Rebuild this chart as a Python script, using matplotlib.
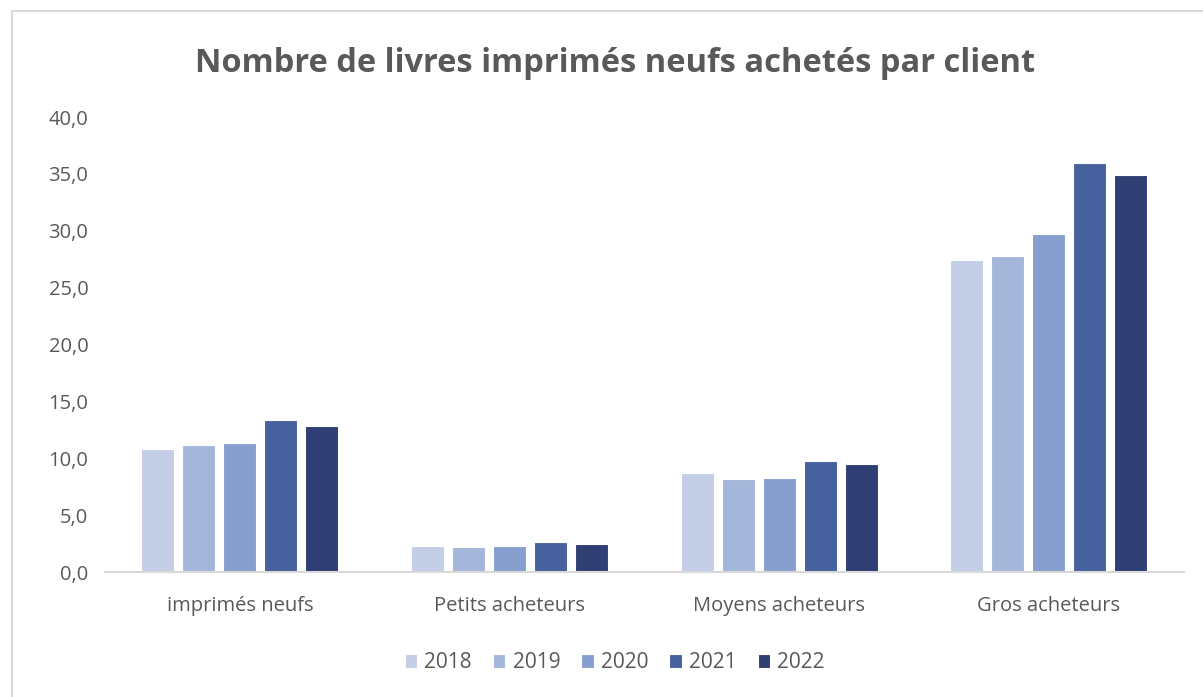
import numpy as np
import matplotlib.pyplot as plt
from matplotlib.patches import Rectangle

plt.rcParams['font.family'] = ['Open Sans', 'DejaVu Sans']

categories = ["imprimés neufs", "Petits acheteurs", "Moyens acheteurs", "Gros acheteurs"]
years = ["2018", "2019", "2020", "2021", "2022"]
v2018 = [10.8, 2.3, 8.7, 27.4]
v2019 = [11.2, 2.2, 8.2, 27.8]
v2020 = [11.3, 2.3, 8.3, 29.7]
v2021 = [13.4, 2.6, 9.8, 36.0]
v2022 = [12.8, 2.5, 9.5, 34.9]
series = [v2018, v2019, v2020, v2021, v2022]
colors = ["#C3CDE6", "#A5B6DB", "#879FCE", "#46619E", "#2F3E73"]

txt = "#595959"
fig = plt.figure(figsize=(12.03, 6.97), dpi=100)
ax = fig.add_axes([0.0873, 0.1793, 0.8967, 0.6528])

x = np.arange(len(categories))
pitch = 0.152
width = 0.122
for i, (vals, c) in enumerate(zip(series, colors)):
    ax.bar(x + (i - 2) * pitch, vals, width, color=c, edgecolor="white",
           linewidth=0.8, label=years[i], zorder=2)

ax.set_xlim(-0.5, 3.5)
ax.set_ylim(0, 40)
ax.set_yticks(np.arange(0, 41, 5))
ax.set_yticklabels([f"{v:.1f}".replace(".", ",") for v in np.arange(0, 41, 5)])
ax.set_xticks(x)
ax.set_xticklabels(categories)
ax.tick_params(axis="both", length=0, colors=txt, labelsize=14.5)
ax.tick_params(axis="x", pad=17)
ax.tick_params(axis="y", pad=12)
for s in ["top", "right", "left"]:
    ax.spines[s].set_visible(False)
ax.spines["bottom"].set_color("#D9D9D9")
ax.spines["bottom"].set_linewidth(1.5)

fig.suptitle("Nombre de livres imprimés neufs achetés par client", x=0.511, y=0.932,
             fontsize=23.5, fontweight="bold", color=txt)

leg = fig.legend(loc="center", bbox_to_anchor=(0.511, 0.049), ncol=5, frameon=False,
                 fontsize=15, handlelength=0.6, handleheight=0.6, handletextpad=0.35,
                 columnspacing=1.0)
for t in leg.get_texts():
    t.set_color(txt)

fig.patches.append(Rectangle((12 / 1203, -0.1), 1.2, 1.1 - 11 / 697, transform=fig.transFigure,
                             fill=False, edgecolor="#D9D9D9", linewidth=1.5))

plt.savefig("out.png", dpi=100)
